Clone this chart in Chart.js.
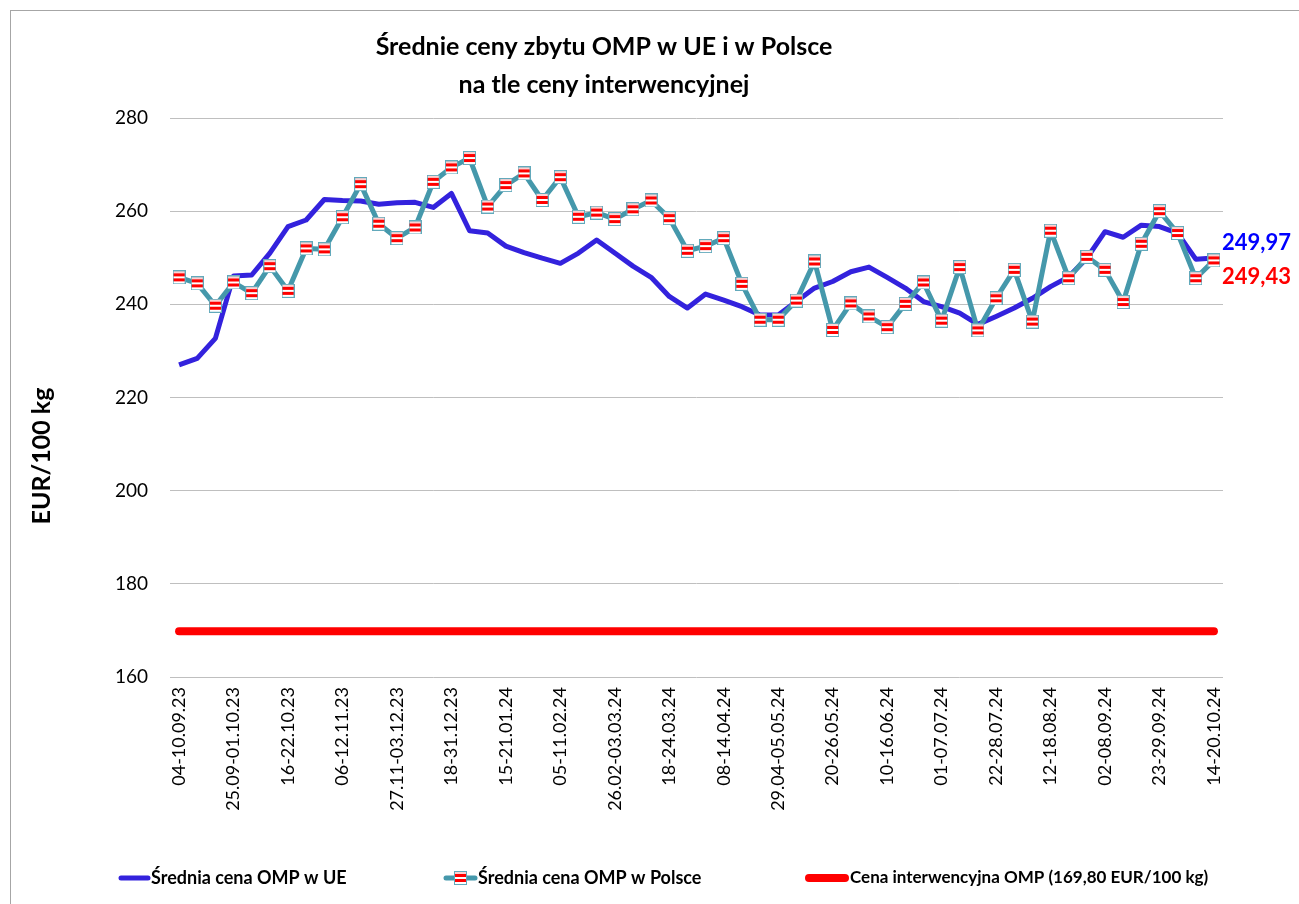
<!DOCTYPE html>
<html>
<head>
<meta charset="utf-8">
<script src="https://cdn.jsdelivr.net/npm/chart.js@4.4.1/dist/chart.umd.min.js"></script>
<style>
  html, body { margin: 0; padding: 0; background: #fff; }
</style>
</head>
<body>
<canvas id="myChart" width="1299" height="904"></canvas>
<script>
// week labels (only every 3rd one is shown on the axis)
const weekLabels = [
  '04-10.09.23', '11-17.09.23', '18-24.09.23', '25.09-01.10.23', '02-08.10.23', '09-15.10.23',
  '16-22.10.23', '23-29.10.23', '30.10-05.11.23', '06-12.11.23', '13-19.11.23', '20-26.11.23',
  '27.11-03.12.23', '04-10.12.23', '11-17.12.23', '18-31.12.23', '01-07.01.24', '08-14.01.24',
  '15-21.01.24', '22-28.01.24', '29.01-04.02.24', '05-11.02.24', '12-18.02.24', '19-25.02.24',
  '26.02-03.03.24', '04-10.03.24', '11-17.03.24', '18-24.03.24', '25-31.03.24', '01-07.04.24',
  '08-14.04.24', '15-21.04.24', '22-28.04.24', '29.04-05.05.24', '06-12.05.24', '13-19.05.24',
  '20-26.05.24', '27.05-02.06.24', '03-09.06.24', '10-16.06.24', '17-23.06.24', '24-30.06.24',
  '01-07.07.24', '08-14.07.24', '15-21.07.24', '22-28.07.24', '29.07-04.08.24', '05-11.08.24',
  '12-18.08.24', '19-25.08.24', '26.08-01.09.24', '02-08.09.24', '09-15.09.24', '16-22.09.24',
  '23-29.09.24', '30.09-06.10.24', '07-13.10.24', '14-20.10.24'
];

const euPrices = [
  227.0, 228.4, 232.7, 246.1, 246.3, 251.0, 256.7, 258.1, 262.5, 262.3,
  262.2, 261.5, 261.8, 261.9, 260.8, 263.8, 255.8, 255.3, 252.5, 251.1,
  249.9, 248.8, 251.0, 253.8, 251.0, 248.2, 245.8, 241.7, 239.2, 242.2,
  240.9, 239.5, 237.7, 237.7, 240.6, 243.5, 244.9, 247.0, 248.0, 245.8,
  243.5, 240.6, 239.5, 238.1, 235.7, 237.4, 239.2, 241.3, 243.8, 245.9,
  249.9, 255.6, 254.4, 257.0, 256.7, 255.3, 249.7, 249.97
];

const plPrices = [
  245.8, 244.5, 239.7, 244.7, 242.4, 248.2, 242.9, 252.0, 251.8, 258.7,
  265.8, 257.3, 254.2, 256.5, 266.3, 269.4, 271.4, 261.0, 265.6, 268.1,
  262.4, 267.3, 258.8, 259.7, 258.3, 260.4, 262.3, 258.5, 251.5, 252.5,
  254.2, 244.4, 236.7, 236.7, 240.8, 249.2, 234.5, 240.2, 237.4, 235.1,
  240.1, 244.7, 236.5, 248.0, 234.4, 241.3, 247.4, 236.3, 255.8, 245.6,
  250.2, 247.4, 240.5, 253.0, 260.0, 255.3, 245.6, 249.43
];

const INTERVENTION = 169.80;

const seriesNames = [
  'Średnia cena OMP w UE',
  'Średnia cena OMP w Polsce',
  'Cena interwencyjna OMP (169,80 EUR/100 kg)'
];
const endLabels = ['249,97', '249,43'];
const TITLE = ['Średnie ceny zbytu OMP w UE i w Polsce', 'na tle ceny interwencyjnej'];
const Y_TITLE = 'EUR/100 kg';

const FONT = 'Lato, "Open Sans", sans-serif';
const BLUE = '#3322dd';
const TEAL = '#4598ab';
const RED = '#ff0000';

// small striped square used as point marker for the Polish series
function MakeMarker()
{
  const c = document.createElement('canvas');
  c.width = 13;
  c.height = 14;
  const g = c.getContext('2d');
  g.fillStyle = '#ffffff';
  g.fillRect(0, 0, 13, 14);
  g.fillStyle = '#fbd2d2';
  g.fillRect(1, 1, 11, 2);
  g.fillStyle = RED;
  g.fillRect(1, 3, 11, 3);
  g.fillRect(1, 8, 11, 3);
  g.strokeStyle = '#62a9bb';
  g.lineWidth = 1;
  g.strokeRect(0.5, 0.5, 12, 13);
  return c;
}
const MARKER = MakeMarker();

function DrawLegend(ctx)
{
  const y = 878;
  ctx.lineCap = 'round';
  // EU
  ctx.strokeStyle = BLUE;
  ctx.lineWidth = 5;
  ctx.beginPath(); ctx.moveTo(121, y); ctx.lineTo(148, y); ctx.stroke();
  // Polska
  ctx.strokeStyle = TEAL;
  ctx.beginPath(); ctx.moveTo(446, y); ctx.lineTo(475, y); ctx.stroke();
  ctx.drawImage(MARKER, 454, y - 7);
  // interwencja
  ctx.strokeStyle = RED;
  ctx.lineWidth = 8;
  ctx.beginPath(); ctx.moveTo(809, y); ctx.lineTo(845, y); ctx.stroke();

  ctx.fillStyle = '#000';
  ctx.textAlign = 'left';
  ctx.textBaseline = 'middle';
  ctx.font = 'bold 18px ' + FONT;
  ctx.fillText(seriesNames[0], 151, y);
  ctx.fillText(seriesNames[1], 478, y);
  ctx.font = 'bold 17px ' + FONT;
  ctx.fillText(seriesNames[2], 850, y);
}

const extrasPlugin = {
  id: 'extras',
  beforeDraw(chart) {
    const ctx = chart.ctx;
    ctx.save();
    ctx.fillStyle = '#fff';
    ctx.fillRect(0, 0, chart.width, chart.height);
    ctx.strokeStyle = '#a6a6a6';
    ctx.lineWidth = 1;
    ctx.strokeRect(10.5, 10.5, 1400, 1000);
    ctx.restore();
  },
  afterDraw(chart) {
    const ctx = chart.ctx;
    const area = chart.chartArea;
    const yScale = chart.scales.y;
    ctx.save();
    ctx.fillStyle = '#000';
    ctx.textAlign = 'center';
    ctx.textBaseline = 'middle';
    ctx.font = 'bold 25px ' + FONT;
    ctx.fillText(TITLE[0], 604, 47);
    ctx.fillText(TITLE[1], 604, 85);

    // values at the end of the lines
    const last = weekLabels.length - 1;
    ctx.textAlign = 'left';
    ctx.font = 'bold 22px ' + FONT;
    ctx.fillStyle = '#0000ff';
    ctx.fillText(endLabels[0], area.right - 1, yScale.getPixelForValue(euPrices[last]) - 15);
    ctx.fillStyle = RED;
    ctx.fillText(endLabels[1], area.right - 1, yScale.getPixelForValue(plPrices[last]) + 17);

    DrawLegend(ctx);

    ctx.translate(42, 456);
    ctx.rotate(-Math.PI / 2);
    ctx.textAlign = 'center';
    ctx.fillStyle = '#000';
    ctx.font = 'bold 25px ' + FONT;
    ctx.fillText(Y_TITLE, 0, 0);
    ctx.restore();
  }
};

const ctx = document.getElementById('myChart');

const myChart = new Chart(ctx, {
  type: 'line',
  data: {
    labels: weekLabels,
    datasets: [
      {
        label: seriesNames[0],
        data: euPrices,
        borderColor: BLUE,
        backgroundColor: BLUE,
        borderWidth: 5,
        borderJoinStyle: 'round',
        pointRadius: 0,
        tension: 0,
        order: 2
      },
      {
        label: seriesNames[1],
        data: plPrices,
        borderColor: TEAL,
        backgroundColor: TEAL,
        borderWidth: 5,
        borderJoinStyle: 'round',
        pointStyle: MARKER,
        pointRadius: 6,
        tension: 0,
        order: 1
      },
      {
        label: seriesNames[2],
        data: [
          { x: weekLabels[0], y: INTERVENTION },
          { x: weekLabels[weekLabels.length - 1], y: INTERVENTION }
        ],
        borderColor: RED,
        backgroundColor: RED,
        borderWidth: 8,
        borderCapStyle: 'round',
        pointRadius: 0,
        order: 3
      }
    ]
  },
  options: {
    responsive: false,
    animation: false,
    layout: { padding: { top: 118, left: 20, right: 76, bottom: 0 } },
    plugins: {
      legend: { display: false },
      title: { display: false },
      tooltip: { enabled: false }
    },
    scales: {
      x: {
        offset: true,
        grid: { display: false, drawTicks: false },
        border: { display: false },
        afterFit: function(scale) { scale.height = 227; },
        ticks: {
          autoSkip: false,
          minRotation: 90,
          maxRotation: 90,
          padding: 10,
          color: '#000',
          font: { family: FONT, size: 18 },
          callback: function(value, index) {
            return index % 3 === 0 ? this.getLabelForValue(value) : '';
          }
        }
      },
      y: {
        min: 160,
        max: 280,
        grid: { color: '#bfbfbf', lineWidth: 1, drawTicks: false },
        border: { display: false },
        afterFit: function(scale) { scale.width = 150; },
        ticks: {
          stepSize: 20,
          padding: 22,
          color: '#000',
          font: { family: FONT, size: 19 }
        }
      }
    }
  },
  plugins: [extrasPlugin]
});
</script>
</body>
</html>
